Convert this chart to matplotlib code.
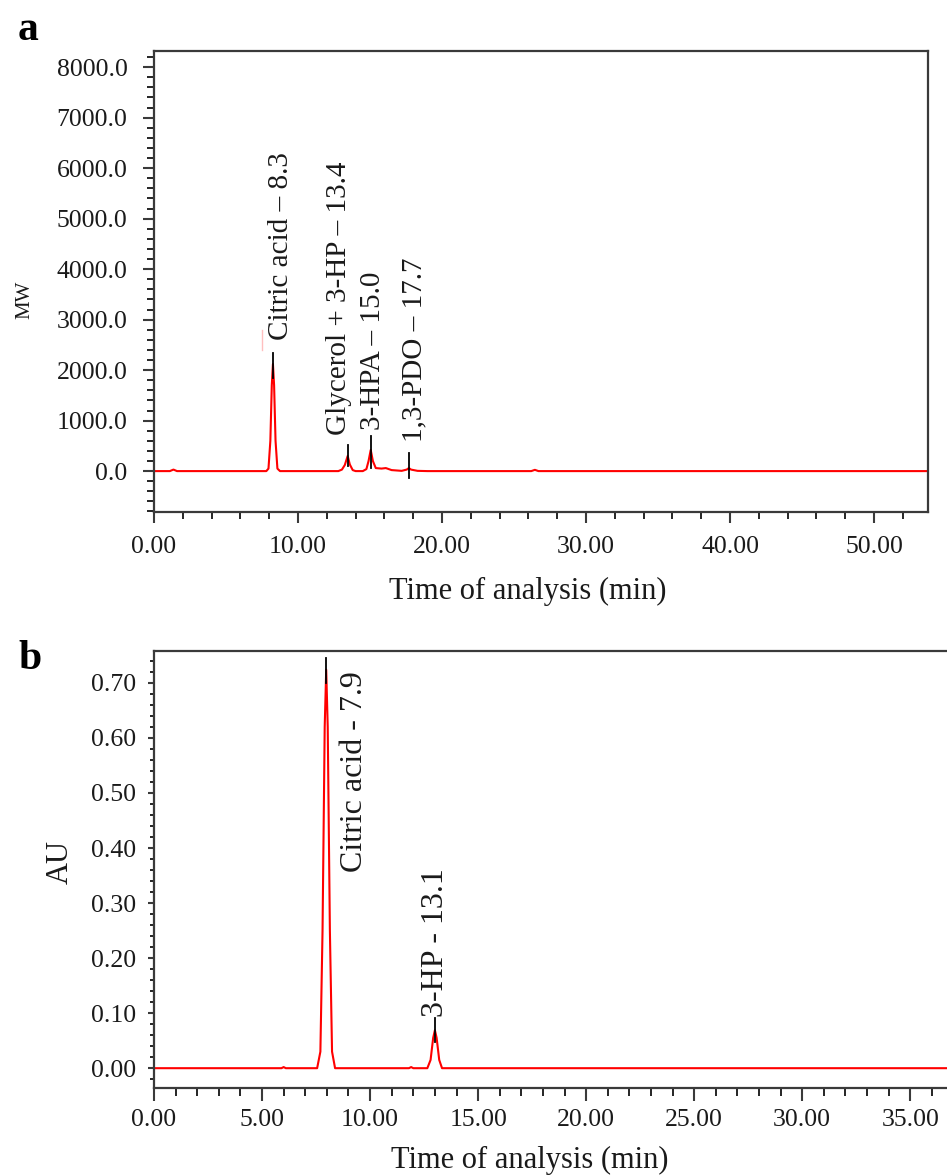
import numpy as np
import matplotlib
matplotlib.use('Agg')
import matplotlib.pyplot as plt
from matplotlib.ticker import MultipleLocator, FormatStrFormatter

plt.rcParams['font.family'] = ['Liberation Serif', 'DejaVu Serif']

# Panel a - RI detector trace (time in min, signal in MW)
tiempo_a = [0.0, 1.1, 1.35, 1.6, 7.8, 7.95, 8.08, 8.18, 8.26, 8.34, 8.44, 8.57, 8.75,
            12.8, 13.05, 13.25, 13.45, 13.6, 13.8, 14.0, 14.5, 14.75, 14.9, 15.05, 15.2,
            15.4, 15.8, 16.1, 16.5, 17.2, 17.55, 17.7, 17.85, 18.3, 19.0, 26.2, 26.45,
            26.7, 53.75]
senal_a = [0, 0, 30, 0, 0, 50, 600, 1700, 2120, 1700, 600, 50, 0,
           0, 30, 120, 300, 130, 20, 0, 0, 40, 200, 420, 200,
           60, 50, 60, 20, 5, 30, 60, 30, 5, 0, 0, 25,
           0, 0]

# Panel b - UV detector trace (time in min, absorbance in AU)
tiempo_b = [0.0, 5.9, 6.0, 6.1, 7.55, 7.7, 7.8, 7.9, 7.97, 8.04, 8.14, 8.24, 8.38,
            11.8, 11.9, 12.0, 12.65, 12.8, 12.92, 13.0, 13.08, 13.2, 13.33, 36.7]
senal_b = [0, 0, 0.002, 0, 0, 0.03, 0.25, 0.62, 0.724, 0.62, 0.25, 0.03, 0,
           0, 0.002, 0, 0, 0.015, 0.055, 0.069, 0.055, 0.015, 0, 0]

# Peak marks (time, bottom, top) and labels (text, x, y)
marcas_a = [(8.27, 1850, 2340), (13.45, 100, 510), (15.05, 60, 690), (17.7, -140, 350)]
etiquetas_a = [('Citric acid \u2013 8.3', 8.8, 2600),
               ('Glycerol + 3-HP \u2013 13.4', 12.85, 713),
               ('3-HPA \u2013 15.0', 15.2, 810),
               ('1,3-PDO \u2013 17.7', 18.1, 575)]

marcas_b = [(7.97, 0.70, 0.745), (13.0, 0.047, 0.091)]
etiquetas_b = [('Citric acid - 7.9', 9.26, 0.356),
               ('3-HP - 13.1', 13.05, 0.093)]

W, H = 947, 1175
fig = plt.figure(figsize=(W / 100, H / 100), dpi=100)

color_eje = '#3a3a3a'
color_txt = '#1a1a1a'


def estilo(ax):
    for s in ax.spines.values():
        s.set_color(color_eje)
        s.set_linewidth(1.6)
    ax.tick_params(colors=color_eje, labelcolor=color_txt, labelsize=18.5)


# ---- Panel a ----
ax1 = fig.add_axes([154 / W, 1 - 512 / H, (928 - 154) / W, (512 - 51) / H])
ax1.plot(tiempo_a, senal_a, color='red', lw=1.5)
for x, y0, y1 in marcas_a:
    ax1.plot([x, x], [y0, y1], color='black', lw=1.3)
# faint mark next to the citric acid label
ax1.plot([7.5, 7.5], [2400, 2800], color='red', lw=1.0, alpha=0.25)
for txt, x, y in etiquetas_a:
    ax1.text(x, y, txt, rotation=90, ha='center', va='bottom', fontsize=21, color=color_txt)

ax1.set_xlim(0, 53.75)
ax1.set_ylim(-810, 8320)
ax1.xaxis.set_major_locator(MultipleLocator(10))
ax1.xaxis.set_minor_locator(MultipleLocator(2))
ax1.yaxis.set_major_locator(MultipleLocator(1000))
ax1.yaxis.set_minor_locator(MultipleLocator(200))
ax1.xaxis.set_major_formatter(FormatStrFormatter('%.2f'))
ax1.yaxis.set_major_formatter(FormatStrFormatter('%.1f'))
estilo(ax1)
ax1.tick_params(axis='y', which='major', length=8, width=1.5, pad=11)
ax1.tick_params(axis='y', which='minor', length=5, width=1.2)
ax1.tick_params(axis='x', which='major', length=8, width=1.5, pad=9)
ax1.tick_params(axis='x', which='minor', length=5, width=1.2)

fig.text(25 / W, 1 - 300 / H, 'MW', rotation=90, ha='center', va='center', fontsize=15, color=color_txt)
fig.text(528 / W, 1 - 591 / H, 'Time of analysis (min)', ha='center', va='center', fontsize=22, color=color_txt)
fig.text(18 / W, 1 - 40 / H, 'a', ha='left', va='baseline', fontsize=30, fontweight='bold')

# ---- Panel b ----
ax2 = fig.add_axes([154 / W, 1 - 1088 / H, 1 - 154 / W, (1088 - 651) / H])
ax2.plot(tiempo_b, senal_b, color='red', lw=1.5)
for x, y0, y1 in marcas_b:
    ax2.plot([x, x], [y0, y1], color='black', lw=1.3)
for txt, x, y in etiquetas_b:
    ax2.text(x, y, txt, rotation=90, ha='center', va='bottom', fontsize=23, color=color_txt)

ax2.set_xlim(0, 36.7)
ax2.set_ylim(-0.036, 0.758)
ax2.xaxis.set_major_locator(MultipleLocator(5))
ax2.xaxis.set_minor_locator(MultipleLocator(1))
ax2.yaxis.set_major_locator(MultipleLocator(0.1))
ax2.yaxis.set_minor_locator(MultipleLocator(0.02))
ax2.xaxis.set_major_formatter(FormatStrFormatter('%.2f'))
ax2.yaxis.set_major_formatter(FormatStrFormatter('%.2f'))
ax2.spines['right'].set_visible(False)
estilo(ax2)
ax2.tick_params(axis='y', which='major', length=4, width=1.5, pad=9)
ax2.tick_params(axis='y', which='minor', length=3, width=1.2)
ax2.tick_params(axis='x', which='major', length=9, width=1.5, pad=6)
ax2.tick_params(axis='x', which='minor', length=6, width=1.2)

fig.text(60 / W, 1 - 862 / H, 'AU', rotation=90, ha='center', va='center', fontsize=22, color=color_txt)
fig.text(530 / W, 1 - 1160 / H, 'Time of analysis (min)', ha='center', va='center', fontsize=22, color=color_txt)
fig.text(18 / W, 1 - 669 / H, 'b', ha='left', va='baseline', fontsize=30, fontweight='bold')

fig.savefig('out.png', dpi=100)
